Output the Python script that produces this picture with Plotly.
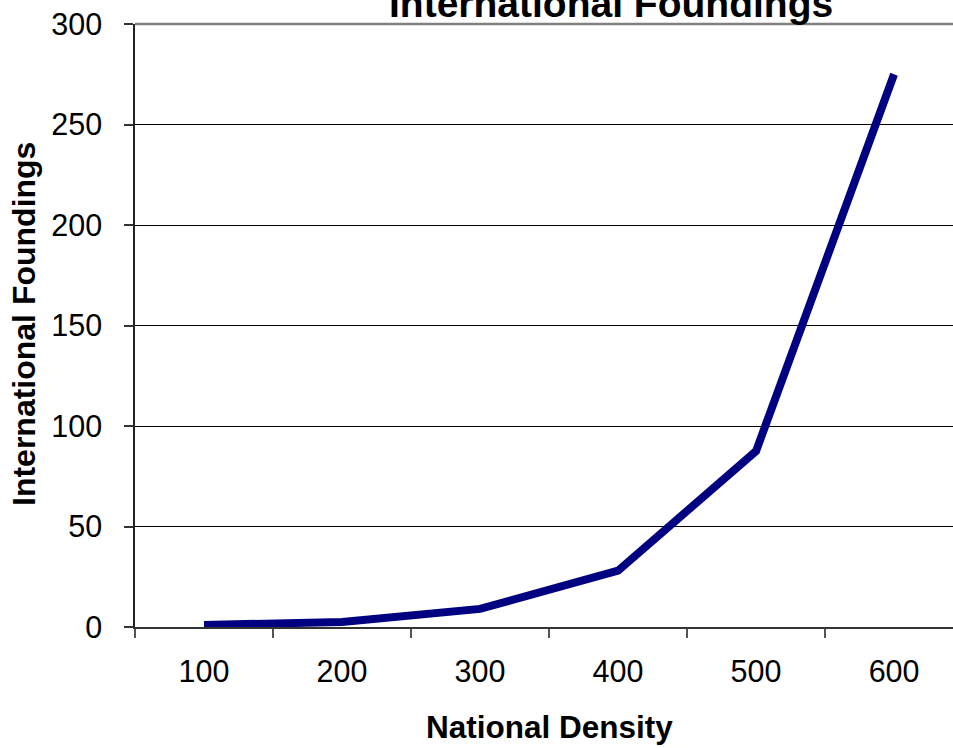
import plotly.graph_objects as go

# National density levels and the foundings observed at each
density = ["100", "200", "300", "400", "500", "600"]
foundings = [1, 2.5, 9, 28, 87.5, 275]
y_ticks = [0, 50, 100, 150, 200, 250, 300]

W, H = 953, 748
ML, MR, MT, MB = 135, 0, 24, 121
plot_w = W - ML - MR
plot_h = H - MT - MB

fig = go.Figure()
fig.add_trace(go.Scatter(
    x=density, y=foundings, mode="lines",
    line=dict(color="#000080", width=8),
    hoverinfo="x+y", showlegend=False,
))

FONT = "Liberation Sans, Arial, sans-serif"

fig.update_layout(
    width=W, height=H,
    margin=dict(l=ML, r=MR, t=MT, b=MB, autoexpand=False),
    paper_bgcolor="white", plot_bgcolor="white",
    font=dict(family=FONT, color="black"),
    xaxis=dict(
        type="category", range=[-0.5, 5.427],
        tickson="boundaries", ticks="outside", ticklen=9, tickwidth=1.5,
        tickcolor="#555555",
        showline=True, linecolor="#333333", linewidth=1.5,
        showgrid=False, zeroline=False,
        tickfont=dict(size=30.5, family=FONT, color="black"),
        ticklabelstandoff=17,
        automargin=False,
    ),
    yaxis=dict(
        range=[0, 300], tickvals=y_ticks,
        ticks="outside", ticklen=9, tickwidth=1.5, tickcolor="#333333",
        showline=True, linecolor="#222222", linewidth=1.5,
        showgrid=True, gridcolor="#000000", gridwidth=1,
        zeroline=False,
        tickfont=dict(size=30.5, family=FONT, color="black"),
        ticklabelstandoff=16,
        automargin=False,
    ),
)

# Grey plot-area border along the top edge
fig.add_shape(type="line", xref="paper", yref="paper",
              x0=0, x1=1, y0=1, y1=1,
              line=dict(color="#808080", width=2.5), layer="above")

def px_x(px):
    return (px - ML) / plot_w

def px_y(py):
    return (H - MB - py) / plot_h

# Chart title (runs off the top edge of the page)
fig.add_annotation(
    text="<b>International Foundings</b>", showarrow=False,
    xref="paper", yref="paper", x=px_x(611), y=px_y(4),
    xanchor="center", yanchor="middle",
    font=dict(size=39, family=FONT, color="black"),
)
# Axis titles
fig.add_annotation(
    text="<b>National Density</b>", showarrow=False,
    xref="paper", yref="paper", x=px_x(549), y=px_y(727),
    xanchor="center", yanchor="middle",
    font=dict(size=31.5, family=FONT, color="black"),
)
fig.add_annotation(
    text="<b>International Foundings</b>", showarrow=False,
    xref="paper", yref="paper", x=px_x(24), y=px_y(324),
    xanchor="center", yanchor="middle", textangle=-90,
    font=dict(size=32, family=FONT, color="black"),
)

fig.write_html("out.html")
